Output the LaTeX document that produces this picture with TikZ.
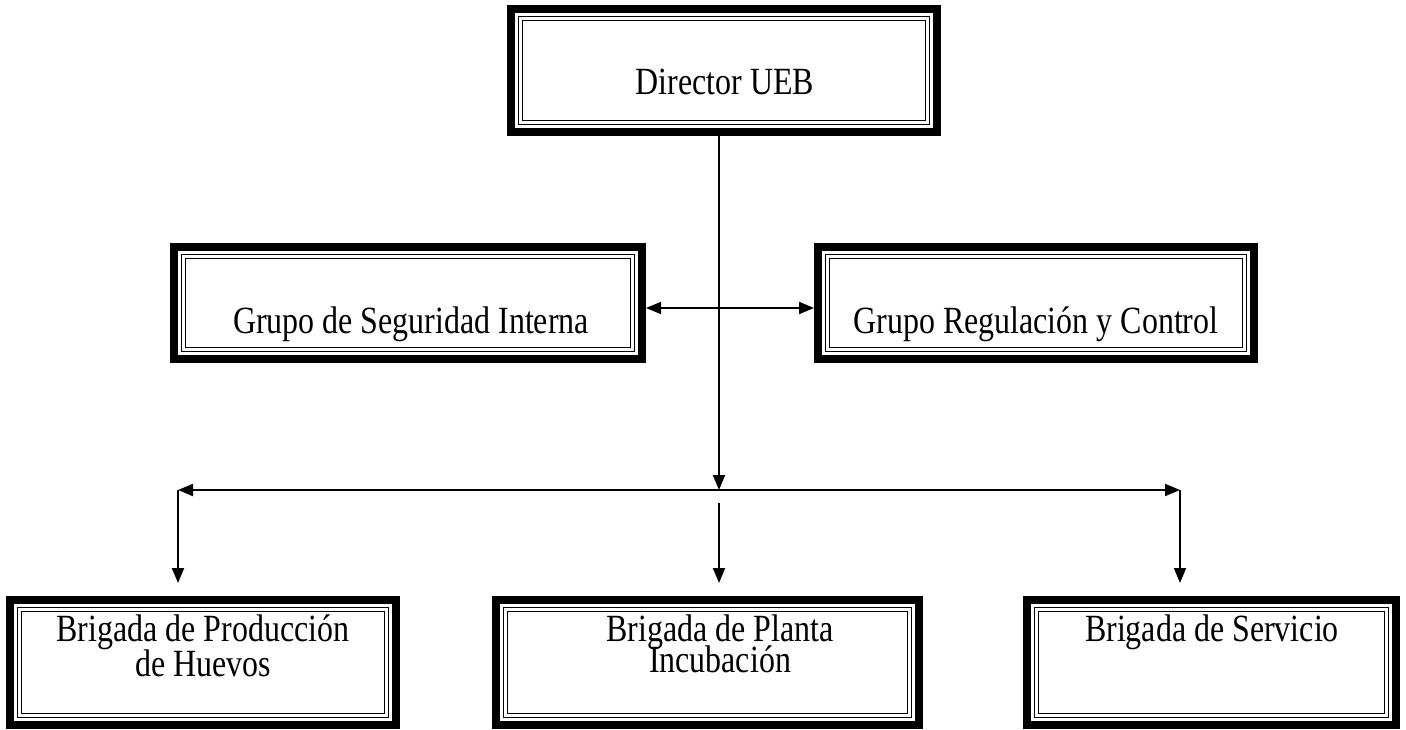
\documentclass[tikz,border=0pt]{standalone}
\usepackage{fontspec}
\setmainfont{Liberation Serif}[FakeStretch=0.83]
\usetikzlibrary{arrows.meta}
\begin{document}
\begin{tikzpicture}[x=1pt,y=-1pt,
  boxshape/.style={rectangle,draw=none,inner sep=0pt,outer sep=0pt},
  lbl/.style={anchor=base,inner sep=0pt,font=\fontsize{38.5}{38.5}\selectfont},
  conn/.style={line width=2pt,-{Triangle[length=15pt,width=12pt]}},
  conn2/.style={line width=2pt,{Triangle[length=15pt,width=12pt]}-{Triangle[length=15pt,width=12pt]}},
  thickfr/.style={line width=8.3pt},
  thinfra/.style={line width=1.6pt},
  thinfrb/.style={line width=1.3pt}]
\useasboundingbox (0,0) rectangle (1406,730);
% boxes
\node[boxshape,minimum width=434pt,minimum height=131pt] (dir) at (724,70.5) {};
\node[boxshape,minimum width=476pt,minimum height=120pt] (sec) at (408,303) {};
\node[boxshape,minimum width=444pt,minimum height=120pt] (reg) at (1036,303) {};
\node[boxshape,minimum width=394pt,minimum height=133pt] (b1) at (203,662.5) {};
\node[boxshape,minimum width=431pt,minimum height=133pt] (b2) at (707.5,662.5) {};
\node[boxshape,minimum width=377pt,minimum height=133pt] (b3) at (1211.5,662.5) {};
\foreach \n in {dir,sec,reg,b1,b2,b3}{
  \draw[thickfr] ([xshift=4.15pt,yshift=-4.15pt]\n.north west) rectangle ([xshift=-4.15pt,yshift=4.15pt]\n.south east);
  \draw[thinfra] ([xshift=11.6pt,yshift=-11.6pt]\n.north west) rectangle ([xshift=-11.6pt,yshift=11.6pt]\n.south east);
  \draw[thinfrb] ([xshift=15.8pt,yshift=-15.8pt]\n.north west) rectangle ([xshift=-15.8pt,yshift=15.8pt]\n.south east);
}
% texts
\node[lbl] (tdir) at (725,95) {Director UEB};
\node[lbl] (tsec) at (411,333) {Grupo de Seguridad Interna};
\node[lbl] (treg) at (1036,333) {Grupo Regulación y Control};
\node[lbl] (tb1a) at (203,641) {Brigada de Producción};
\node[lbl] (tb1b) at (203,676) {de Huevos};
\node[lbl] (tb2a) at (720,641) {Brigada de Planta};
\node[lbl] (tb2b) at (720,672) {Incubación};
\node[lbl] (tb3a) at (1212,641) {Brigada de Servicio};
% connectors
\coordinate (hub) at (719,490);
\coordinate (L) at (178,490);
\coordinate (R) at (1180,490);
\coordinate (M) at (719,503);
\draw[conn] (dir.south -| hub) -- (hub);
\draw[conn2] ([yshift=-5pt]sec.east) -- ([yshift=-5pt]reg.west);
\draw[conn2] (L) -- (R);
\draw[conn,shorten >=13pt] (L) -- (L |- b1.north);
\draw[conn,shorten >=13pt] (M) -- (M |- b2.north);
\draw[conn,shorten >=13pt] (R) -- (R |- b3.north);
\end{tikzpicture}
\end{document}
